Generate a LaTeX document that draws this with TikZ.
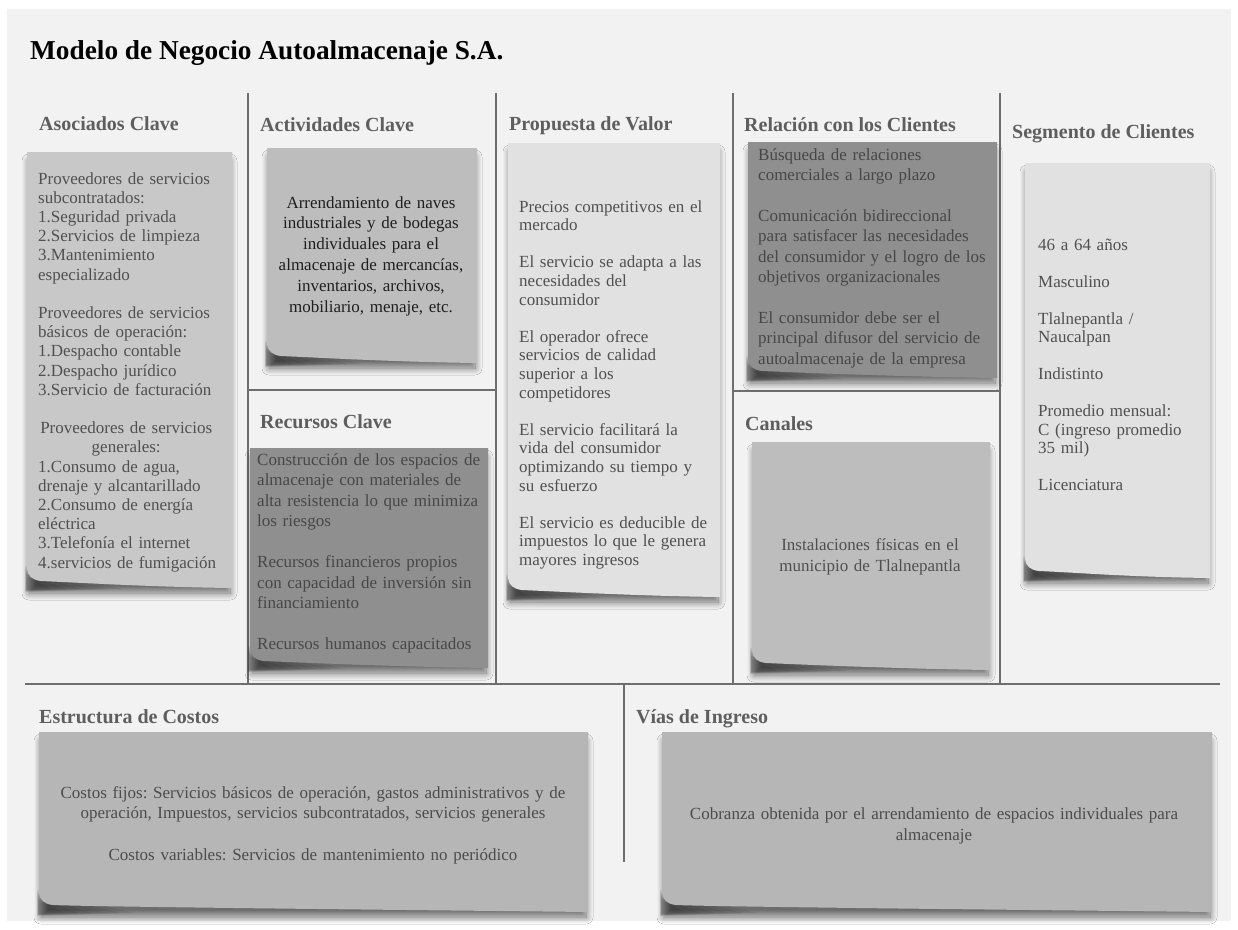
\documentclass[tikz,border=0pt]{standalone}
\usepackage{fontspec}
\setmainfont{Liberation Serif}
\usetikzlibrary{shadows.blur}
\frenchspacing

\definecolor{canvas}{HTML}{F2F2F2}
\definecolor{rule}{HTML}{6E6E6E}
\definecolor{headc}{HTML}{5E5E5E}
\definecolor{bodyc}{HTML}{505050}
\definecolor{noteA}{HTML}{C8C8C8}
\definecolor{noteB}{HTML}{BDBDBD}
\definecolor{noteC}{HTML}{8F8F8F}
\definecolor{noteD}{HTML}{E1E1E1}
\definecolor{noteE}{HTML}{B6B6B6}

% sticky note with a curled lower-left corner: x0,y0,x1,y1,colour
\newcommand\stickynote[5]{%
  \path[notesh] (#1+2,#2+4) rectangle (#3-2,#4);
  % darker shade under the curled corner, tapering to the right
  \foreach \k in {0,...,5}{%
    \fill[black, opacity=0.07] (#1-2+0.3*\k,#4-22+2*\k)
      -- ({#1+95-14*\k},#4+1) -- (#1-2+0.3*\k,#4+4-0.4*\k) -- cycle;
  }
  \fill[#5] (#1,#2) -- (#3,#2) -- (#3,#4)
    .. controls (#3-80,#4-1) and (#1+60,#4-5) .. (#1+14,#4-7)
    .. controls (#1+5,#4-8) and (#1+1,#4-12) .. (#1,#4-19) -- cycle;
}

\begin{document}
\begin{tikzpicture}[x=1pt,y=-1pt,
  notesh/.style={blur shadow={shadow xshift=0pt, shadow yshift=-5pt,
      shadow blur radius=7pt, shadow blur steps=14, shadow opacity=55}},
  frame/.style={draw=rule, line width=2.4pt},
  title/.style={anchor=base west, inner sep=0pt, text=black,
      font=\bfseries\fontsize{27.3pt}{30pt}\selectfont},
  head/.style={anchor=base west, inner sep=0pt, text=headc,
      font=\bfseries\fontsize{20pt}{22pt}\selectfont},
  bodyl/.style={anchor=base west, inner sep=0pt, align=left, text=bodyc},
  bodyc/.style={anchor=base, inner sep=0pt, align=center, text=bodyc}]

\useasboundingbox (0,0) rectangle (1238,929);
\fill[white] (0,0) rectangle (1238,929);
\fill[canvas] (7,9) rectangle (1231,921);

% title
\node[title] (title) at (30,59) {Modelo de Negocio Autoalmacenaje S.A.};

% canvas grid
\draw[frame] (248,93) -- (248,684);
\draw[frame] (496,93) -- (496,684);
\draw[frame] (733,93) -- (733,684);
\draw[frame] (1000,93) -- (1000,684);
\draw[frame] (25,684) -- (1220,684);
\draw[frame] (248,390) -- (496,390);
\draw[frame] (733,391) -- (1000,391);
\draw[frame] (624,684) -- (624,862);

% section headings
\node[head] (h-asoc) at (39,130) {Asociados Clave};
\node[head] (h-act)  at (260,131) {Actividades Clave};
\node[head] (h-prop) at (509,130) {Propuesta de Valor};
\node[head] (h-rel)  at (744,131) {Relación con los Clientes};
\node[head] (h-seg)  at (1012,138) {Segmento de Clientes};
\node[head] (h-rec)  at (260,428) {Recursos Clave};
\node[head] (h-can)  at (745,430) {Canales};
\node[head] (h-cost) at (39,723) {Estructura de Costos};
\node[head] (h-vias) at (636,723) {Vías de Ingreso};

% notes
\stickynote{27}{152}{232}{588}{noteA}
\stickynote{267}{148}{477}{363}{noteB}
\stickynote{250}{448}{488}{668}{noteC}
\stickynote{508}{143}{720}{597}{noteD}
\stickynote{748}{142}{997}{378}{noteC}
\stickynote{752}{442}{990}{670}{noteB}
\stickynote{1025}{163}{1210}{578}{noteD}
\stickynote{39}{732}{588}{912}{noteE}
\stickynote{662}{732}{1212}{912}{noteE}

% note texts
\node[bodyl, text width=190pt, font=\fontsize{17pt}{19.2pt}\selectfont] (t-asoc) at (38,184)
{Proveedores de servicios\\
subcontratados:\\
1.Seguridad privada\\
2.Servicios de limpieza\\
3.Mantenimiento\\
especializado\\[19.2pt]
Proveedores de servicios\\
básicos de operación:\\
1.Despacho contable\\
2.Despacho jurídico\\
3.Servicio de facturación\\[19.2pt]
\makebox[176pt]{Proveedores de servicios}\\
\makebox[176pt]{generales:}\\
1.Consumo de agua,\\
drenaje y alcantarillado\\
2.Consumo de energía\\
eléctrica\\
3.Telefonía el internet\\
4.servicios de fumigación};

\node[bodyc, text=black!88, text width=210pt, font=\fontsize{17pt}{20.8pt}\selectfont] (t-act) at (371,208)
{Arrendamiento de naves\\
industriales y de bodegas\\
individuales para el\\
almacenaje de mercancías,\\
inventarios, archivos,\\
mobiliario, menaje, etc.};

\node[bodyl, text=black!72, text width=240pt, font=\fontsize{17pt}{20.5pt}\selectfont] (t-rec) at (257,465)
{Construcción de los espacios de\\
almacenaje con materiales de\\
alta resistencia lo que minimiza\\
los riesgos\\[20.5pt]
Recursos financieros propios\\
con capacidad de inversión sin\\
financiamiento\\[20.5pt]
Recursos humanos capacitados};

\node[bodyl, text width=200pt, font=\fontsize{17pt}{18.6pt}\selectfont] (t-prop) at (519,212)
{Precios competitivos en el\\
mercado\\[18.6pt]
El servicio se adapta a las\\
necesidades del\\
consumidor\\[18.6pt]
El operador ofrece\\
servicios de calidad\\
superior a los\\
competidores\\[18.6pt]
El servicio facilitará la\\
vida del consumidor\\
optimizando su tiempo y\\
su esfuerzo\\[18.6pt]
El servicio es deducible de\\
impuestos lo que le genera\\
mayores ingresos};

\node[bodyl, text=black!72, text width=240pt, font=\fontsize{17pt}{20.4pt}\selectfont] (t-rel) at (758,160)
{Búsqueda de relaciones\\
comerciales a largo plazo\\[20.4pt]
Comunicación bidireccional\\
para satisfacer las necesidades\\
del consumidor y el logro de los\\
objetivos organizacionales\\[20.4pt]
El consumidor debe ser el\\
principal difusor del servicio de\\
autoalmacenaje de la empresa};

\node[bodyc, text width=230pt, font=\fontsize{17pt}{21pt}\selectfont] (t-can) at (870,550)
{Instalaciones físicas en el\\
municipio de Tlalnepantla};

\node[bodyl, text width=170pt, font=\fontsize{17pt}{18.5pt}\selectfont] (t-seg) at (1038,250)
{46 a 64 años\\[18.5pt]
Masculino\\[18.5pt]
Tlalnepantla /\\
Naucalpan\\[18.5pt]
Indistinto\\[18.5pt]
Promedio mensual:\\
C (ingreso promedio\\
35 mil)\\[18.5pt]
Licenciatura};

\node[bodyc, text=black!70, text width=540pt, font=\fontsize{17pt}{20.5pt}\selectfont] (t-cost) at (313,798)
{Costos fijos: Servicios básicos de operación, gastos administrativos y de\\
operación, Impuestos, servicios subcontratados, servicios generales\\[21pt]
Costos variables: Servicios de mantenimiento no periódico};

\node[bodyc, text=black!70, text width=540pt, font=\fontsize{17pt}{21pt}\selectfont] (t-vias) at (934,819)
{Cobranza obtenida por el arrendamiento de espacios individuales para\\
almacenaje};

\end{tikzpicture}
\end{document}
